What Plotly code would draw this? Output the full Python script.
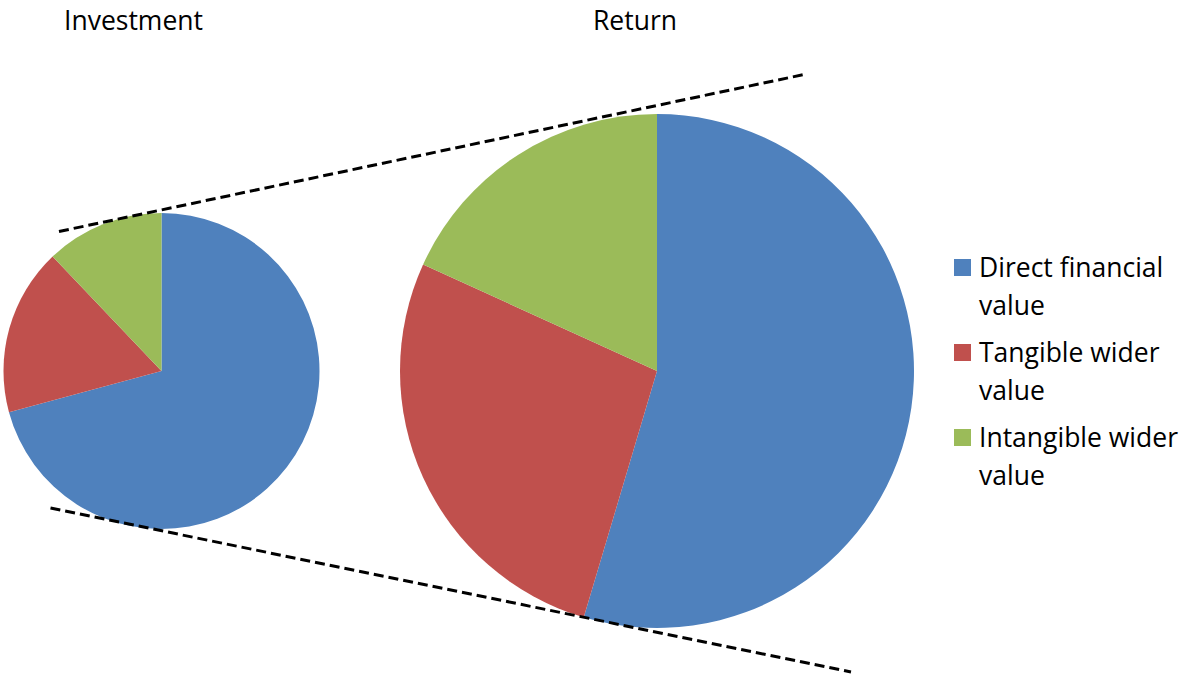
import plotly.graph_objects as go

labels = ["Direct financial value", "Tangible wider value", "Intangible wider value"]
legend_lines = [["Direct financial", "value"], ["Tangible wider", "value"], ["Intangible wider", "value"]]
investment_values = [70.8, 17.1, 12.1]
return_values = [54.6, 27.2, 18.2]
colors = ["#4F81BD", "#C0504D", "#9BBB59"]
titles = ["Investment", "Return"]

W, H = 1186, 675
FONT = "Open Sans"
FS = 26.5

def px(x):
    return x / W

def py(y):
    return 1 - y / H

fig = go.Figure()
fig.add_trace(go.Pie(
    labels=labels, values=investment_values, sort=False, direction="clockwise",
    marker=dict(colors=colors, line=dict(width=0)), textinfo="none", hoverinfo="label+percent",
    domain=dict(x=[px(3.5), px(319.5)], y=[py(529), py(213)]), showlegend=False, name=titles[0]))
fig.add_trace(go.Pie(
    labels=labels, values=return_values, sort=False, direction="clockwise",
    marker=dict(colors=colors, line=dict(width=0)), textinfo="none", hoverinfo="label+percent",
    domain=dict(x=[px(400), px(914)], y=[py(628), py(114)]), showlegend=False, name=titles[1]))

shapes = []
annotations = []
# dashed guide lines
for (x0, y0, x1, y1) in [(59, 231.5, 804, 74.5), (50.5, 508, 851, 672)]:
    shapes.append(dict(type="line", xref="paper", yref="paper", x0=px(x0), y0=py(y0), x1=px(x1), y1=py(y1),
                       line=dict(color="black", width=3, dash="10px,5px")))

# titles
for t, cx in zip(titles, [133.5, 634.5]):
    annotations.append(dict(text=t, x=px(cx), y=py(20), xref="paper", yref="paper", showarrow=False,
                            xanchor="center", yanchor="middle", font=dict(family=FONT, size=FS, color="black")))

# custom legend
for i, (c, lines) in enumerate(zip(colors, legend_lines)):
    top = 259 + 85 * i
    shapes.append(dict(type="rect", xref="paper", yref="paper", x0=px(954), x1=px(971), y0=py(top + 17), y1=py(top),
                       fillcolor=c, line=dict(width=0)))
    for j, ln in enumerate(lines):
        annotations.append(dict(text=ln, x=px(977), y=py(top + 8 + 38 * j), xref="paper", yref="paper", showarrow=False,
                                xanchor="left", yanchor="middle", font=dict(family=FONT, size=FS, color="black")))

fig.update_layout(width=W, height=H, margin=dict(l=0, r=0, t=0, b=0), paper_bgcolor="white",
                  plot_bgcolor="white", shapes=shapes, annotations=annotations, showlegend=False)
fig.write_html("out.html")
